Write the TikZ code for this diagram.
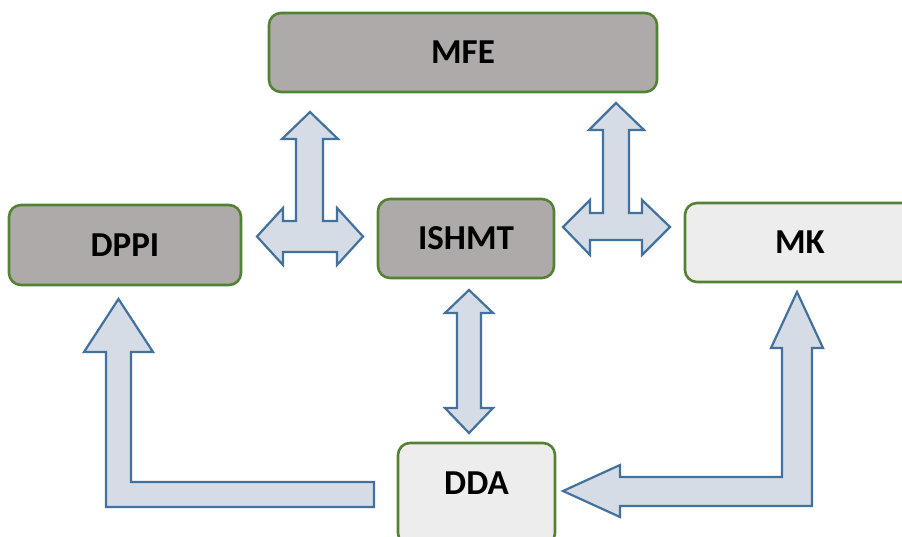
\documentclass[tikz,border=0pt]{standalone}
\usepackage{fontspec}
\setmainfont{Carlito}
\usepackage{tikz}

\definecolor{boxgray}{HTML}{AEAAAA}
\definecolor{boxlight}{HTML}{EDEDED}
\definecolor{boxgreen}{HTML}{548235}
\definecolor{arrowfill}{HTML}{D6DCE5}
\definecolor{arrowline}{HTML}{41719C}

\begin{document}
\begin{tikzpicture}[x=1pt, y=-1pt,
  every node/.style = {shape=rectangle, rounded corners=12pt,
    draw=boxgreen, line width=2.6pt, align=center,
    font=\fontsize{35}{40}\selectfont\bfseries},
  darkbox/.style = {fill=boxgray},
  lightbox/.style = {fill=boxlight},
  blockarrow/.style = {draw=arrowline, fill=arrowfill, line width=2.2pt}]
  \useasboundingbox (0,0) rectangle (902,537);
  \clip (0,0) rectangle (902,537);

  \node[darkbox, minimum width=388pt, minimum height=79pt] (mfe) at (463,52.5) {MFE};
  \node[darkbox, minimum width=232pt, minimum height=80pt] (dppi) at (125,245) {DPPI};
  \node[darkbox, minimum width=176pt, minimum height=79pt] (ishmt) at (466,238.5) {ISHMT};
  \node[lightbox, minimum width=230pt, minimum height=79pt] (mk) at (800,242.5) {MK};
  \node[lightbox, minimum width=157pt, minimum height=102pt, text depth=22pt] (dda) at (476.5,494) {DDA};

  % T arrow: dppi <-> ishmt, up to mfe
  \draw[blockarrow] (310,112) -- (338,139) -- (323,139) -- (323,221) -- (337,221) -- (337,208)
    -- (363,236.5) -- (337,265) -- (337,252) -- (283,252) -- (283,265) -- (257,236.5)
    -- (283,208) -- (283,221) -- (296,221) -- (296,139) -- (282,139) -- cycle;
  % T arrow: ishmt <-> mk, up to mfe
  \draw[blockarrow] (616,103) -- (644,130) -- (629,130) -- (629,213) -- (642,213) -- (642,200)
    -- (670,227) -- (642,255) -- (642,240) -- (590,240) -- (590,255) -- (563,227)
    -- (590,200) -- (590,213) -- (603,213) -- (603,130) -- (589,130) -- cycle;
  % ishmt <-> dda
  \draw[blockarrow] (469,290) -- (493,313) -- (481,313) -- (481,408) -- (493,408) -- (469,433)
    -- (445,408) -- (457,408) -- (457,313) -- (445,313) -- cycle;
  % dda -> dppi
  \draw[blockarrow] (118.5,299) -- (153,352) -- (131,352) -- (131,482) -- (374,482) -- (374,507)
    -- (106,507) -- (106,352) -- (84,352) -- cycle;
  % mk -> dda
  \draw[blockarrow] (797,292) -- (823,348) -- (812,348) -- (812,506) -- (620,506) -- (620,517)
    -- (563,491) -- (620,465) -- (620,477) -- (782,477) -- (782,348) -- (771,348) -- cycle;
\end{tikzpicture}
\end{document}
